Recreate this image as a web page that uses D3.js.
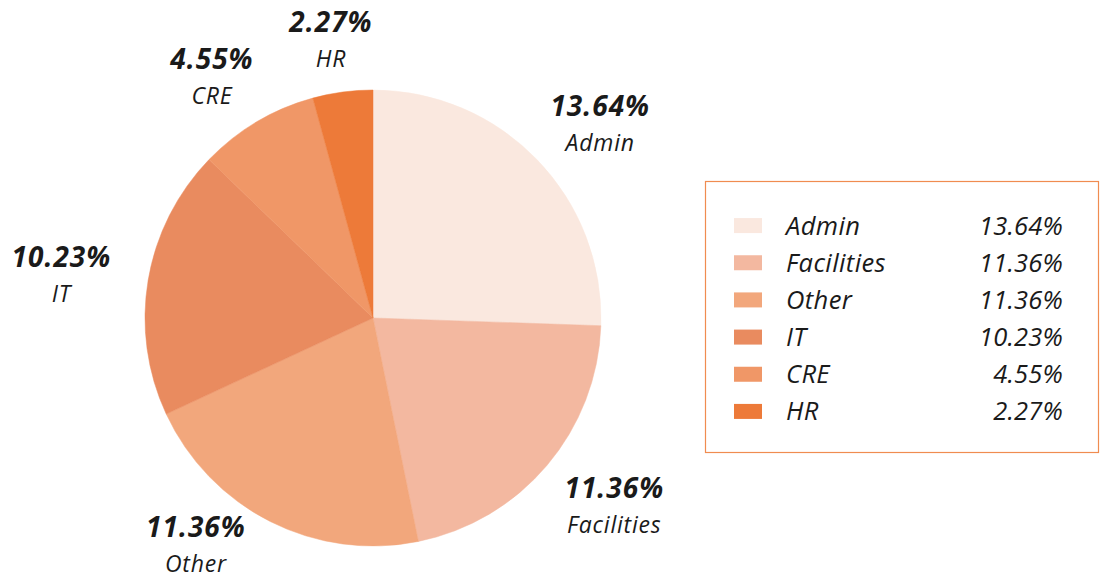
<!DOCTYPE html>
<html>
<head>
<meta charset="utf-8">
<script src="https://cdn.jsdelivr.net/npm/d3@7"></script>
<style>
  body { margin: 0; background: #fff; }
  svg text { font-family: "Open Sans", "Noto Sans", sans-serif; font-style: italic; fill: #1a1a1a; }
</style>
</head>
<body>
<div id="chart"></div>
<script>
// Pie of cost share by department, with a boxed legend on the right
let categories = ["Admin", "Facilities", "Other", "IT", "CRE", "HR"];
let values = [13.64, 11.36, 11.36, 10.23, 4.55, 2.27];
let colors = ["#fae8df", "#f3b8a0", "#f2a77c", "#e98b5f", "#f09767", "#ed7a39"];

let width = 1101, height = 583;
let cx = 373, cy = 318, radius = 228;

let svg = d3.select("#chart")
    .append("svg")
    .attr("width", width)
    .attr("height", height);

let data = categories.map(function(c, i) { return {name: c, value: values[i], color: colors[i]}; });

let pie = d3.pie()
    .sort(null)
    .value(function(d) { return d.value; });

let arc = d3.arc()
    .innerRadius(0)
    .outerRadius(radius);

let arcs = pie(data);

let g = svg.append("g")
    .attr("transform", "translate(" + cx + "," + cy + ")");

g.selectAll("path")
    .data(arcs)
    .enter()
    .append("path")
    .attr("d", arc)
    .attr("fill", function(d) { return d.data.color; })
    .attr("stroke", function(d) { return d.data.color; })
    .attr("stroke-width", 0.5);

// Labels sit on an ellipse around the pie, pushed back inside the page when they overflow
let rx = 316, ry = 285, shiftY = 8;
let bottomLimit = 549 - cy - shiftY;
function labelPos(d) {
    let a = (d.startAngle + d.endAngle) / 2;
    let x = rx * Math.sin(a), y = -ry * Math.cos(a);
    if (y > bottomLimit) {
        let c = bottomLimit / ry;
        let s = Math.sqrt(1 - c * c) * (Math.sin(a) < 0 ? -1 : 1);
        x = rx * s * 0.9; y = bottomLimit;
    }
    return [x, y + shiftY];
}

let labels = g.selectAll(".lbl")
    .data(arcs)
    .enter()
    .append("g")
    .attr("class", "lbl")
    .attr("transform", function(d) { let p = labelPos(d); return "translate(" + p[0] + "," + p[1] + ")"; });

labels.append("text")
    .attr("text-anchor", "middle")
    .attr("y", -12)
    .style("font-size", "28px")
    .style("font-weight", "bold")
    .style("letter-spacing", "1px")
    .text(function(d) { return d.data.value.toFixed(2) + "%"; });

labels.append("text")
    .attr("text-anchor", "middle")
    .attr("y", 23)
    .style("font-size", "23px")
    .style("letter-spacing", "0.8px")
    .text(function(d) { return d.data.name; });

// Legend
let legend = svg.append("g");
legend.append("rect")
    .attr("x", 705.5)
    .attr("y", 181.5)
    .attr("width", 393)
    .attr("height", 271)
    .attr("fill", "none")
    .attr("stroke", "#f08c50")
    .attr("stroke-width", 1.2);

let rowY = d3.scaleBand()
    .domain(categories)
    .range([207, 430]);

let rows = legend.selectAll(".row")
    .data(data)
    .enter()
    .append("g")
    .attr("class", "row")
    .attr("transform", function(d) { return "translate(0," + (rowY(d.name) + rowY.bandwidth() / 2) + ")"; });

rows.append("rect")
    .attr("x", 734)
    .attr("y", -7.5)
    .attr("width", 28)
    .attr("height", 15)
    .attr("fill", function(d) { return d.color; });

rows.append("text")
    .attr("x", 786)
    .attr("y", 9)
    .style("font-size", "25.5px")
    .style("letter-spacing", "0.4px")
    .text(function(d) { return d.name; });

rows.append("text")
    .attr("x", 1063)
    .attr("y", 9)
    .attr("text-anchor", "end")
    .style("font-size", "25.5px")
    .style("letter-spacing", "0.2px")
    .text(function(d) { return d.value.toFixed(2) + "%"; });
</script>
</body>
</html>
